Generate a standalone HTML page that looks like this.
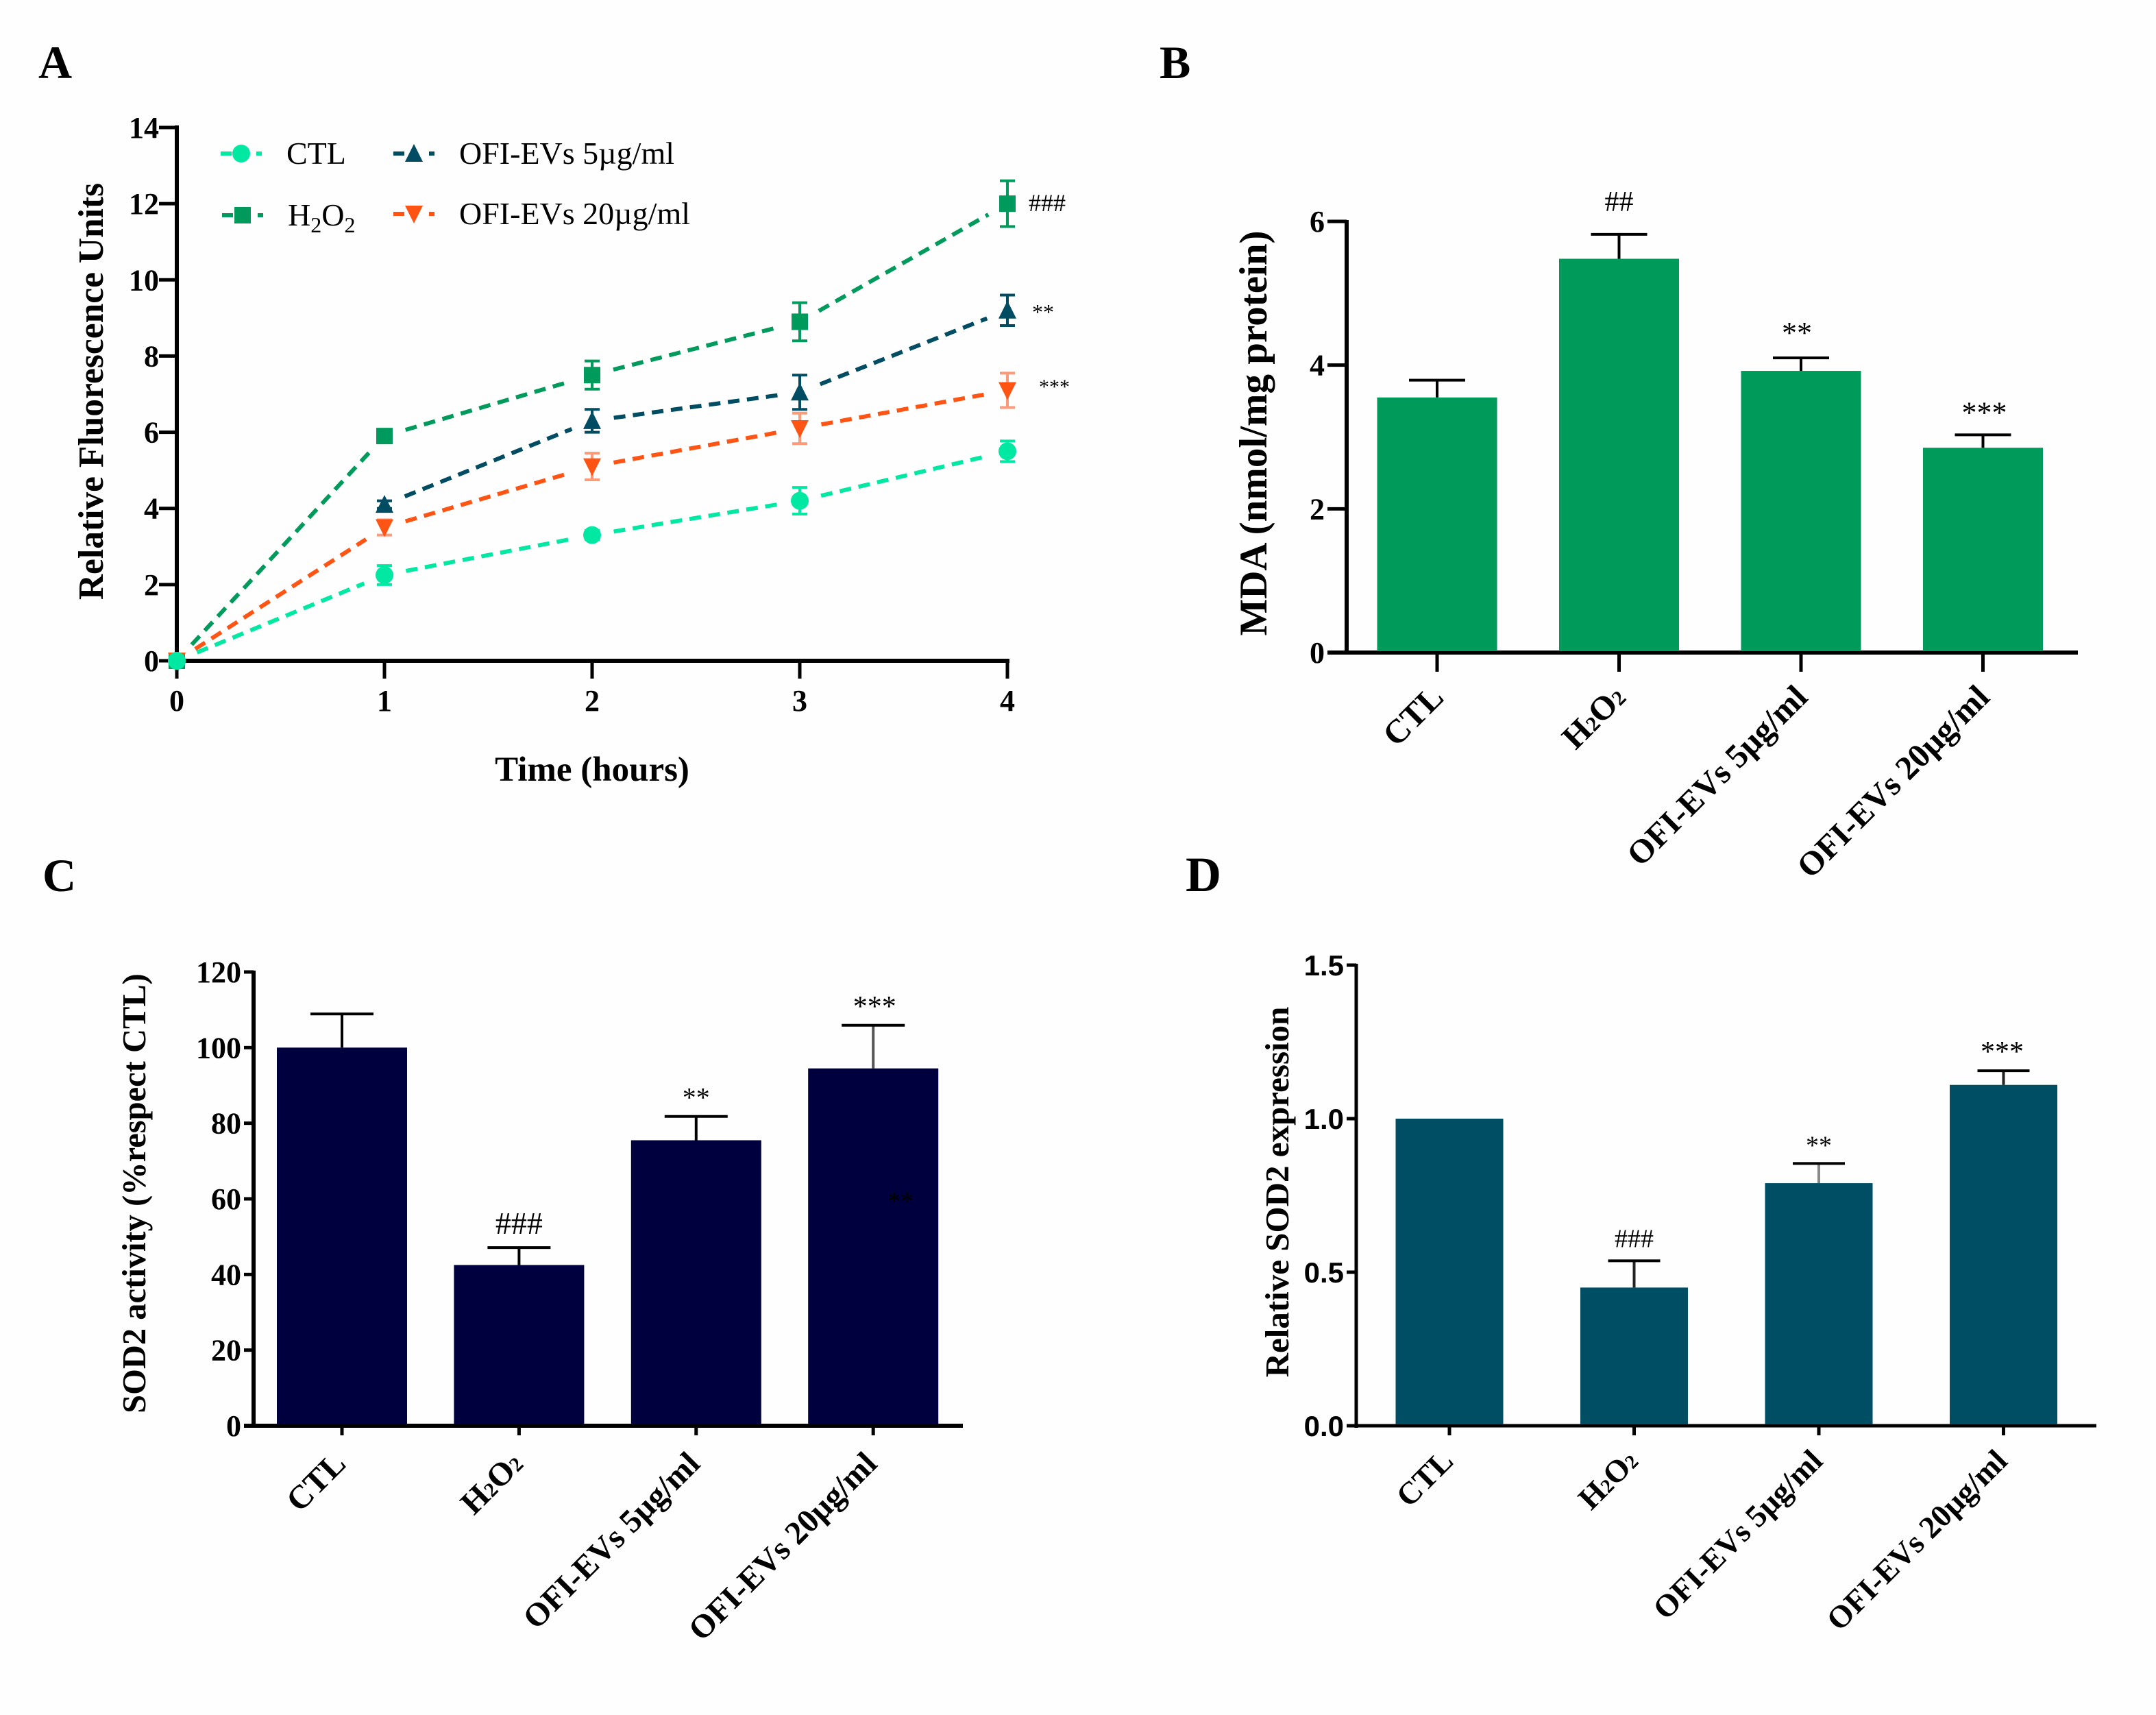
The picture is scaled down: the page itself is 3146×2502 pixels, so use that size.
<!DOCTYPE html>
<html><head><meta charset="utf-8"><title>OFI-EVs figure</title>
<style>
html,body{margin:0;padding:0;background:#fff}
svg{display:block}
text{font-family:"Liberation Serif",serif;fill:#000}
</style></head>
<body>
<svg id="fig" xmlns="http://www.w3.org/2000/svg" width="3146" height="2502" viewBox="0 0 3146 2502">
<rect width="3146" height="2502" fill="#fefefe"/>
</svg>
<script>
// Panel A data
const timeCategories = [0, 1, 2, 3, 4];
const ctlValues = [0, 2.25, 3.3, 4.2, 5.5];
const ctlErrors = [0, 0.25, 0.12, 0.35, 0.27];
const h2o2Values = [0, 5.9, 7.5, 8.9, 12.0];
const h2o2Errors = [0, 0.1, 0.37, 0.5, 0.6];
const ev5Values = [null, 4.1, 6.3, 7.05, 9.2];
const ev5Errors = [0, 0.1, 0.3, 0.45, 0.4];
const ev20Values = [0, 3.5, 5.1, 6.1, 7.1];
const ev20Errors = [0, 0.2, 0.35, 0.4, 0.45];
const aTicks = [0, 2, 4, 6, 8, 10, 12, 14];
// Bar panel data
const groups = ["CTL", "H2O2", "OFI-EVs 5µg/ml", "OFI-EVs 20µg/ml"];
const mdaValues = [3.55, 5.48, 3.92, 2.85];
const mdaTops = [3.79, 5.82, 4.10, 3.03];
const mdaMarks = ["", "##", "**", "***"];
const mdaTicks = [0, 2, 4, 6];
const sodActivityValues = [100, 42.5, 75.5, 94.5];
const sodActivityTops = [108.9, 47.1, 81.8, 105.9];
const sodActivityMarks = ["", "###", "**", "***"];
const sodActivityTicks = [0, 20, 40, 60, 80, 100, 120];
const sodExprValues = [1.0, 0.45, 0.79, 1.11];
const sodExprTops = [1.0, 0.537, 0.854, 1.156];
const sodExprMarks = ["", "###", "**", "***"];
const sodExprTicks = ["0.0", "0.5", "1.0", "1.5"];

const NS = "http://www.w3.org/2000/svg";
const fig = document.getElementById("fig");
function el(tag, attrs, parent, txt) {
  const e = document.createElementNS(NS, tag);
  for (const k in attrs) e.setAttribute(k, attrs[k]);
  if (txt !== undefined) e.textContent = txt;
  (parent || fig).appendChild(e);
  return e;
}
function line(p, x1, y1, x2, y2, c, w) {
  return el("line", { x1: x1, y1: y1, x2: x2, y2: y2, stroke: c, "stroke-width": w }, p);
}
function named(e, n, i) {
  
  
  return e;
}
function label(p, name, x, y, txt, size, weight, anchor, rot) {
  const attrs = { x: x, y: y, "font-size": size, "font-weight": weight, "text-anchor": anchor || "middle" };
  if (rot !== undefined) attrs.transform = "rotate(" + rot + " " + x + " " + y + ")";
  return named(el("text", attrs, p, txt), name);
}
function panelLetter(x, y, t, size) {
  label(fig, "panel-letter-" + t.toLowerCase(), x, y, t, size, "bold", "start");
}
panelLetter(56, 114, "A", 68);
panelLetter(1692, 114, "B", 68);
panelLetter(62, 1300, "C", 68);
panelLetter(1730, 1300, "D", 72);

/* ---------- Panel A ---------- */
(function () {
  const g = named(el("g", {}), "panel-a-line-chart");
  const X0 = 258, X4 = 1470, Y0 = 964, Y14 = 186;
  const sx = v => X0 + (X4 - X0) * v / 4;
  const sy = v => Y0 - (Y0 - Y14) * v / 14;
  const axis = named(el("g", {}, g), "panel-a-axes");
  line(axis, X0, Y14 - 3, X0, Y0 + 3, "#000", 6);
  line(axis, X0 - 3, Y0, X4 + 3, Y0, "#000", 6);
  aTicks.forEach(t => {
    line(axis, X0 - 26, sy(t), X0, sy(t), "#000", 5);
    label(axis, "y-tick-label", X0 - 26, sy(t) + 15, String(t), 44, "bold", "end");
  });
  timeCategories.forEach(t => {
    line(axis, sx(t), Y0, sx(t), Y0 + 26, "#000", 5);
    label(axis, "x-tick-label", sx(t), Y0 + 73, String(t), 44, "bold");
  });
  label(g, "x-axis-title", 864, 1139, "Time (hours)", 51, "bold");
  label(g, "y-axis-title", 150, 571, "Relative Fluorescence Units", 51.5, "bold", "middle", -90);

  const series = [
    { n: "ctl", c: "#00e8a2", e: "#00e8a2", v: ctlValues, er: ctlErrors, m: "circle" },
    { n: "h2o2", c: "#009a5c", e: "#009a5c", v: h2o2Values, er: h2o2Errors, m: "square" },
    { n: "ev5", c: "#004c62", e: "#004c62", v: ev5Values, er: ev5Errors, m: "up" },
    { n: "ev20", c: "#ff5414", e: "#ff9a78", v: ev20Values, er: ev20Errors, m: "down" }
  ];
  function marker(p, kind, x, y, c) {
    if (kind === "circle") return el("circle", { cx: x, cy: y, r: 13, fill: c }, p);
    if (kind === "square") return el("rect", { x: x - 12, y: y - 12, width: 24, height: 24, fill: c }, p);
    if (kind === "up") return el("polygon", { points: (x - 13) + "," + (y + 12) + " " + (x + 13) + "," + (y + 12) + " " + x + "," + (y - 14), fill: c }, p);
    return el("polygon", { points: (x - 13) + "," + (y - 12) + " " + (x + 13) + "," + (y - 12) + " " + x + "," + (y + 14), fill: c }, p);
  }
  series.forEach(s => {
    const sg = named(el("g", {}, g), "series-" + s.n);
    s.v.forEach((v, i) => {
      if (i === 0 || v === null || s.v[i - 1] === null) return;
      const x1 = sx(timeCategories[i - 1]), y1 = sy(s.v[i - 1]), x2 = sx(timeCategories[i]), y2 = sy(v);
      const L = Math.hypot(x2 - x1, y2 - y1), ux = (x2 - x1) / L, uy = (y2 - y1) / L, gap = 32;
      const seg = el("line", { x1: x1 + ux * gap, y1: y1 + uy * gap, x2: x2 - ux * gap, y2: y2 - uy * gap, stroke: s.c, "stroke-width": 6, "stroke-dasharray": "17 11" }, sg);
      named(seg, "line-segment-" + s.n);
    });
    s.v.forEach((v, i) => {
      if (v === null) return;
      const x = sx(timeCategories[i]);
      if (s.er[i] > 0) {
        const eb = named(el("g", {}, sg), "error-bar-" + s.n);
        line(eb, x, sy(v + s.er[i]), x, sy(v - s.er[i]), s.e, 4);
        line(eb, x - 11, sy(v + s.er[i]), x + 11, sy(v + s.er[i]), s.e, 4);
        line(eb, x - 11, sy(v - s.er[i]), x + 11, sy(v - s.er[i]), s.e, 4);
      }
      named(marker(sg, s.m, x, sy(v), s.c), "point-" + s.n);
    });
  });
  named(marker(g, "circle", sx(0), sy(0), "#00e8a2"), "point-origin");

  label(g, "significance-h2o2", 1501, 308, "###", 36, "normal", "start");
  label(g, "significance-ev5", 1506, 466, "**", 32, "normal", "start");
  label(g, "significance-ev20", 1516, 574, "***", 30, "normal", "start");

  const leg = named(el("g", {}, g), "legend");
  const legendRows = [
    { x: 352, y: 224, lx: 418, t: "CTL", s: series[0] },
    { x: 354, y: 314, lx: 420, t: null, s: series[1] },
    { x: 604, y: 224, lx: 670, t: "OFI-EVs 5µg/ml", s: series[2] },
    { x: 604, y: 312, lx: 670, t: "OFI-EVs 20µg/ml", s: series[3] }
  ];
  legendRows.forEach(r => {
    const e = named(el("g", {}, leg), "legend-entry-" + r.s.n);
    line(e, r.x - 30, r.y, r.x - 14, r.y, r.s.c, 6);
    line(e, r.x + 22, r.y, r.x + 30, r.y, r.s.c, 6);
    marker(e, r.s.m, r.x, r.y, r.s.c);
    if (r.t) {
      el("text", { x: r.lx, y: r.y + 15, "font-size": 46 }, e, r.t);
    } else {
      const t = el("text", { x: r.lx, y: r.y + 15, "font-size": 46 }, e);
      el("tspan", {}, t, "H");
      el("tspan", { "font-size": 32, dy: 10 }, t, "2");
      el("tspan", { dy: -10 }, t, "O");
      el("tspan", { "font-size": 32, dy: 10 }, t, "2");
    }
  });
})();

/* ---------- Bar panels ---------- */
function barPanel(o) {
  const g = named(el("g", {}), o.name);
  const sy = v => o.y0 - (o.y0 - o.yTop) * v / o.max;
  const a = named(el("g", {}, g), o.id + "-axes");
  line(a, o.ax, o.yTop - 2, o.ax, o.y0 + 3, "#000", o.axw);
  line(a, o.ax - o.tick, o.y0, o.xEnd, o.y0, "#000", o.axw);
  o.ticks.forEach(t => {
    const y = sy(parseFloat(t));
    line(a, o.ax - o.tick, y, o.ax, y, "#000", 5);
    const lab = label(a, "y-tick-label", o.ax - o.tick - 4, y + 15, String(t), o.tickSize, "bold", "end");
    if (o.sansTicks) lab.setAttribute("style", 'font-family:"Liberation Sans",sans-serif');
  });
  o.values.forEach((v, i) => {
    const x = o.x0 + o.step * i;
    const eb = named(el("g", {}, g), "error-bar");
    if (o.tops[i] > v) {
      line(eb, x, sy(o.tops[i]), x, sy(v), o.errC ? o.errC[i] : "#000", 4);
      line(eb, x - o.cap, sy(o.tops[i]), x + o.cap, sy(o.tops[i]), "#000", 4);
    }
    const b = el("rect", { x: x - o.w / 2, y: sy(v), width: o.w, height: o.y0 - sy(v) - 2, fill: o.color }, g);
    named(b, "bar-" + i);
    line(a, x, o.y0, x, o.y0 + o.tick, "#000", 5);
    const lx = x + o.lo, ly = o.y0 + o.ly;
    const attrs = { x: lx, y: ly, "font-size": o.labelSize, "font-weight": "bold", "text-anchor": "end", transform: "rotate(-45 " + lx + " " + ly + ")" };
    const t = named(el("text", attrs, g), "x-tick-label");
    if (groups[i] === "H2O2") {
      el("tspan", {}, t, "H");
      el("tspan", { "font-size": o.labelSize * 0.62 }, t, "2");
      el("tspan", {}, t, "O");
      el("tspan", { "font-size": o.labelSize * 0.62 }, t, "2");
    } else t.textContent = groups[i];
    if (o.marks[i]) {
      label(g, "significance-label", x + (o.mo ? o.mo[i] : 0), sy(o.tops[i]) - o.mg[i], o.marks[i], o.mSize[i], "normal");
    }
  });
  label(g, "y-axis-title", o.tx, o.ty, o.title, o.titleSize, "bold", "middle", -90);
  return g;
}
barPanel({
  name: "panel-b-bar-chart", id: "panel-b", values: mdaValues, tops: mdaTops, marks: mdaMarks, ticks: mdaTicks,
  max: 6, y0: 952, yTop: 323, ax: 1965, xEnd: 3032, x0: 2097, step: 265.5, w: 175, cap: 41, color: "#009a5a",
  tick: 28, axw: 6, tickSize: 44, labelSize: 49, lo: 12, ly: 68, mSize: [0, 42, 44, 44], mg: [0, 34, 22, 18], mo: [0, 0, -6, 2],
  title: "MDA (nmol/mg protein)", titleSize: 57, tx: 1848, ty: 632
});
barPanel({
  name: "panel-c-bar-chart", id: "panel-c", values: sodActivityValues, tops: sodActivityTops, marks: sodActivityMarks, ticks: sodActivityTicks,
  max: 120, y0: 2080, yTop: 1418, ax: 370, xEnd: 1405, x0: 499, step: 258.4, w: 190, cap: 46, color: "#00003f",
  tick: 14, axw: 6, tickSize: 44, labelSize: 48, lo: 8, ly: 58, mSize: [0, 46, 40, 42], mg: [0, 20, 14, 14], mo: [0, 0, 0, 2], errC: ["#000", "#000", "#000", "#555"],
  title: "SOD2 activity (%respect CTL)", titleSize: 48.5, tx: 212, ty: 1741
});
barPanel({
  name: "panel-d-bar-chart", id: "panel-d", values: sodExprValues, tops: sodExprTops, marks: sodExprMarks, ticks: sodExprTicks,
  max: 1.5, y0: 2080, yTop: 1408, ax: 1979, xEnd: 3059, x0: 2115, step: 269.5, w: 157, cap: 38, color: "#004e63",
  tick: 14, axw: 5, tickSize: 42, sansTicks: true, labelSize: 46, lo: 8, ly: 54, mSize: [0, 38, 38, 42], mg: [0, 20, 14, 14], mo: [0, 0, 0, -2], errC: ["#000", "#222", "#888", "#222"],
  title: "Relative SOD2 expression", titleSize: 49, tx: 1880, ty: 1739
});
label(named(el("g", {}), "panel-c-stray-annotation"), "stray-significance", 1314, 1765, "**", 38, "normal");
</script>
</body></html>
